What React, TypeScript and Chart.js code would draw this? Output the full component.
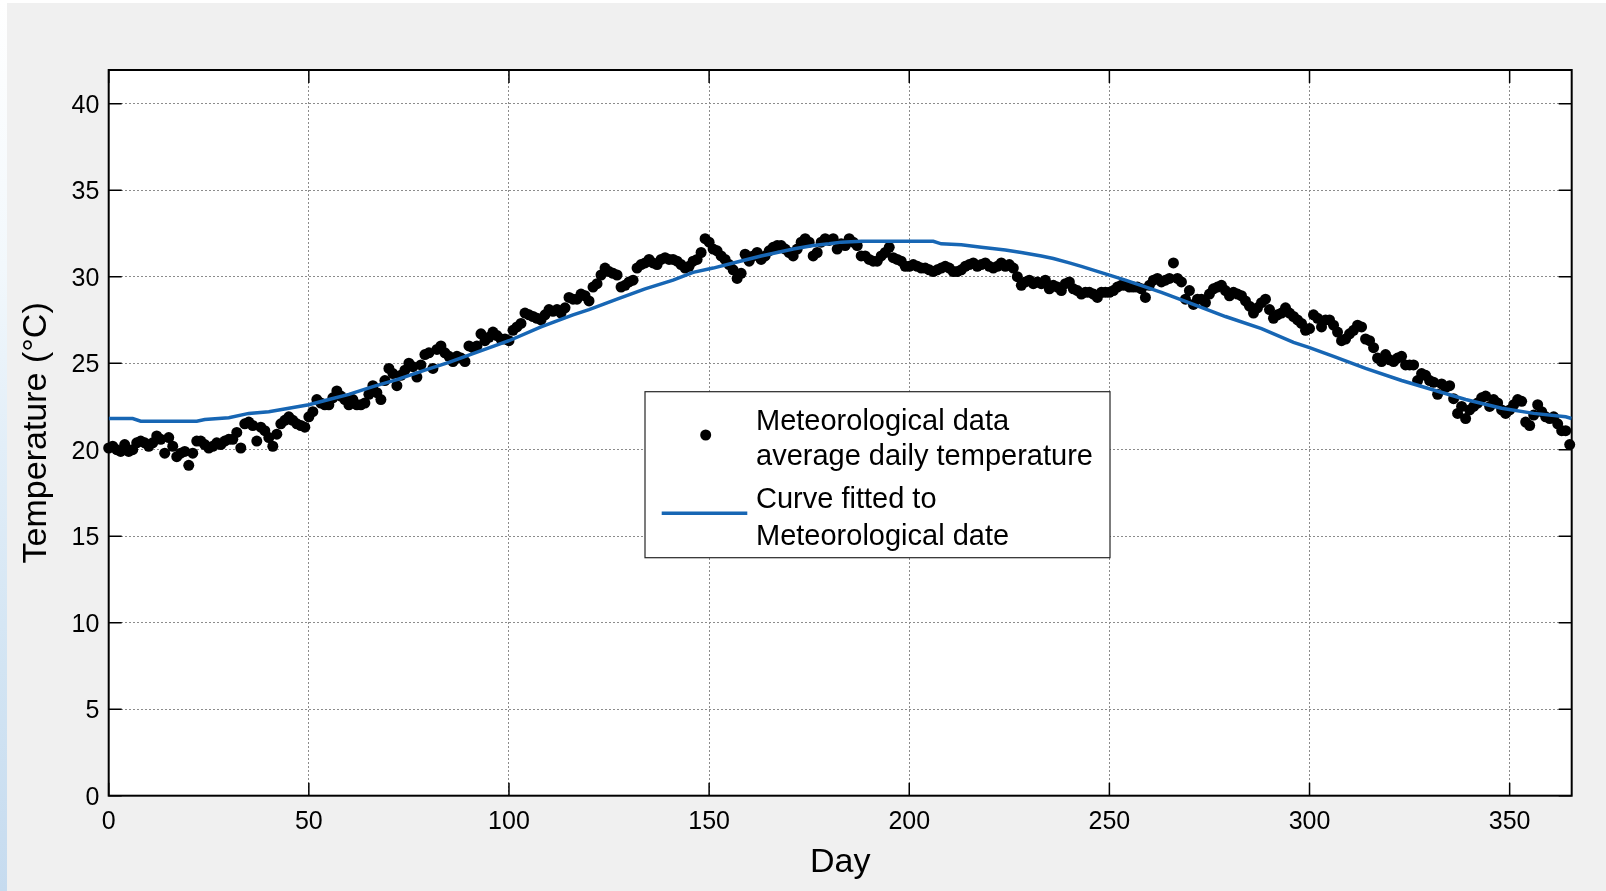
import React, { useEffect, useRef } from 'react';
import { Chart, registerables } from 'chart.js';

Chart.register(...registerables);

// Average daily temperature, day 0 .. 365
const temps: number[] = [
  20.1, 20.2, 20.0, 19.9, 20.3, 19.9, 20.0, 20.4, 20.5, 20.4,
  20.2, 20.4, 20.8, 20.6, 19.8, 20.7, 20.2, 19.6, 19.8, 19.9,
  19.1, 19.8, 20.5, 20.5, 20.3, 20.1, 20.2, 20.4, 20.3, 20.5,
  20.6, 20.6, 21.0, 20.1, 21.5, 21.6, 21.4, 20.5, 21.3, 21.1,
  20.7, 20.2, 20.9, 21.5, 21.7, 21.9, 21.7, 21.5, 21.4, 21.3,
  21.9, 22.2, 22.9, 22.7, 22.6, 22.6, 23.0, 23.4, 23.1, 22.9,
  22.6, 22.9, 22.6, 22.6, 22.7, 23.2, 23.7, 23.3, 22.9, 24.0,
  24.7, 24.4, 23.7, 24.3, 24.6, 25.0, 24.8, 24.2, 24.9, 25.5,
  25.6, 24.7, 25.8, 26.0, 25.6, 25.4, 25.1, 25.4, 25.3, 25.1,
  26.0, 25.9, 26.0, 26.7, 26.3, 26.5, 26.8, 26.6, 26.4, 26.4,
  26.3, 26.9, 27.1, 27.3, 27.9, 27.8, 27.7, 27.6, 27.5, 27.8,
  28.1, 28.0, 28.1, 27.9, 28.2, 28.8, 28.7, 28.7, 29.0, 28.9,
  28.6, 29.4, 29.6, 30.1, 30.5, 30.3, 30.2, 30.1, 29.4, 29.5,
  29.7, 29.8, 30.5, 30.7, 30.8, 31.0, 30.8, 30.7, 31.0, 31.1,
  31.0, 31.0, 30.9, 30.7, 30.5, 30.6, 30.9, 31.0, 31.4, 32.2,
  32.0, 31.6, 31.5, 31.2, 31.0, 30.7, 30.4, 29.9, 30.2, 31.3,
  30.9, 31.2, 31.4, 31.0, 31.2, 31.5, 31.7, 31.8, 31.8, 31.6,
  31.4, 31.2, 31.6, 32.0, 32.2, 32.0, 31.2, 31.4, 32.0, 32.2,
  32.1, 32.2, 31.6, 31.9, 31.8, 32.2, 32.0, 31.8, 31.2, 31.2,
  31.0, 30.9, 30.9, 31.2, 31.4, 31.7, 31.1, 31.0, 30.9, 30.6,
  30.6, 30.7, 30.6, 30.5, 30.5, 30.4, 30.3, 30.4, 30.5, 30.6,
  30.5, 30.3, 30.3, 30.4, 30.6, 30.7, 30.8, 30.6, 30.7, 30.8,
  30.6, 30.5, 30.6, 30.8, 30.6, 30.7, 30.5, 30.0, 29.5, 29.7,
  29.8, 29.6, 29.7, 29.6, 29.8, 29.3, 29.5, 29.4, 29.2, 29.6,
  29.7, 29.3, 29.2, 29.0, 29.1, 29.1, 29.0, 28.8, 29.1, 29.1,
  29.1, 29.2, 29.4, 29.5, 29.5, 29.4, 29.4, 29.4, 29.3, 28.8,
  29.5, 29.8, 29.9, 29.7, 29.8, 29.9, 30.8, 29.9, 29.7, 28.7,
  29.2, 28.4, 28.7, 28.7, 28.5, 29.0, 29.3, 29.4, 29.5, 29.2,
  28.9, 29.1, 29.0, 28.9, 28.6, 28.3, 27.9, 28.2, 28.5, 28.7,
  28.1, 27.6, 27.8, 27.9, 28.2, 27.9, 27.7, 27.5, 27.3, 26.9,
  27.0, 27.8, 27.6, 27.1, 27.5, 27.5, 27.2, 26.8, 26.3, 26.4,
  26.7, 26.9, 27.2, 27.1, 26.4, 26.3, 25.9, 25.3, 25.1, 25.5,
  25.2, 25.1, 25.3, 25.4, 24.9, 24.9, 24.9, 24.0, 24.4, 24.3,
  24.0, 23.9, 23.2, 23.8, 23.6, 23.7, 22.95, 22.1, 22.5, 21.8,
  22.3, 22.5, 22.7, 23.0, 23.1, 22.5, 22.9, 22.7, 22.3, 22.1,
  22.3, 22.6, 22.9, 22.8, 21.6, 21.4, 22.0, 22.6, 22.2, 21.9,
  21.8, 21.9, 21.5, 21.1, 21.1, 20.3,
];

// Fitted curve (day, temperature)
const curveDays: number[] = [
  0, 6, 8, 22, 24, 30, 35, 40, 45, 50, 55, 60, 66, 72, 79, 85, 91, 100, 108, 116,
  120, 127, 134, 141, 146, 151, 157, 163, 171, 176, 180, 183, 188, 206, 208, 213,
  218, 224, 228, 233, 236, 240, 243, 248, 254, 263, 271, 279, 288, 296, 300, 306,
  314, 323, 331, 339, 348, 356, 364, 365.5,
];
const curveTemps: number[] = [
  21.8, 21.8, 21.65, 21.65, 21.75, 21.85, 22.1, 22.2, 22.4, 22.6, 22.9, 23.2, 23.65, 24.05, 24.6, 25.05, 25.55, 26.3, 27.1, 27.8,
  28.1, 28.7, 29.3, 29.8, 30.25, 30.5, 30.85, 31.2, 31.6, 31.8, 31.9, 32.0, 32.05, 32.05, 31.9, 31.85,
  31.7, 31.55, 31.4, 31.2, 31.05, 30.8, 30.6, 30.24, 29.8, 29.1, 28.4, 27.7, 27.0, 26.2, 25.9, 25.4,
  24.7, 24.0, 23.45, 22.9, 22.4, 22.1, 21.9, 21.8,
];

const xTicks: number[] = [0, 50, 100, 150, 200, 250, 300, 350];
const yTicks: number[] = [0, 5, 10, 15, 20, 25, 30, 35, 40];
const xTitle = 'Day';
const yTitle = 'Temperature (°C)';
const legendTexts: string[][] = [
  ['Meteorological data', 'average daily temperature'],
  ['Curve fitted to', 'Meteorological date'],
];

const FONT = "'Liberation Sans', Arial, Helvetica, sans-serif";
const CURVE_COLOR = '#1766b4';
const DOT_COLOR = '#000000';

const framePlugin = {
  id: 'matlabFrame',
  beforeDraw(chart: any) {
    const { ctx, chartArea: a } = chart;
    ctx.save();
    ctx.fillStyle = '#ffffff';
    ctx.fillRect(a.left, a.top, a.right - a.left, a.bottom - a.top);
    ctx.restore();
  },
  beforeDatasetsDraw(chart: any) {
    const { ctx, chartArea: a, scales } = chart;
    ctx.save();
    ctx.strokeStyle = '#000';
    ctx.lineWidth = 1.5;
    const L = 13;
    ctx.beginPath();
    for (const v of xTicks) {
      const px = scales.x.getPixelForValue(v);
      ctx.moveTo(px, a.bottom);
      ctx.lineTo(px, a.bottom - L);
      ctx.moveTo(px, a.top);
      ctx.lineTo(px, a.top + L);
    }
    for (const v of yTicks) {
      const py = scales.y.getPixelForValue(v);
      ctx.moveTo(a.left, py);
      ctx.lineTo(a.left + L, py);
      ctx.moveTo(a.right, py);
      ctx.lineTo(a.right - L, py);
    }
    ctx.stroke();
    ctx.lineWidth = 2;
    ctx.strokeRect(a.left, a.top, a.right - a.left, a.bottom - a.top);
    ctx.restore();
  },
};

const legendPlugin = {
  id: 'matlabLegend',
  afterDatasetsDraw(chart: any) {
    const { ctx, chartArea: a } = chart;
    const x0 = a.left + 536.3;
    const y0 = a.top + 321.7;
    const w = 465;
    const h = 166;
    ctx.save();
    ctx.fillStyle = '#ffffff';
    ctx.fillRect(x0, y0, w, h);
    ctx.strokeStyle = '#262626';
    ctx.lineWidth = 1.2;
    ctx.strokeRect(x0, y0, w, h);
    ctx.fillStyle = DOT_COLOR;
    ctx.beginPath();
    ctx.arc(x0 + 60.7, y0 + 43.3, 5.5, 0, Math.PI * 2);
    ctx.fill();
    ctx.strokeStyle = CURVE_COLOR;
    ctx.lineWidth = 3.5;
    ctx.beginPath();
    ctx.moveTo(x0 + 16.7, y0 + 121.6);
    ctx.lineTo(x0 + 102.3, y0 + 121.6);
    ctx.stroke();
    ctx.fillStyle = '#000';
    ctx.font = `29px ${FONT}`;
    ctx.textAlign = 'left';
    ctx.textBaseline = 'alphabetic';
    const baselines = [[38.3, 73.3], [116.6, 153.3]];
    legendTexts.forEach((lines, i) => {
      lines.forEach((t, j) => ctx.fillText(t, x0 + 111, y0 + baselines[i][j]));
    });
    ctx.restore();
  },
};

export default function App() {
  const ref = useRef<HTMLCanvasElement | null>(null);

  useEffect(() => {
    if (!ref.current) return;
    const chart = new Chart(ref.current, {
      type: 'scatter',
      data: {
        datasets: [
          {
            label: 'Curve fitted to Meteorological date',
            data: curveDays.map((d, i) => ({ x: d, y: curveTemps[i] })),
            showLine: true,
            borderColor: CURVE_COLOR,
            backgroundColor: CURVE_COLOR,
            borderWidth: 3.5,
            pointRadius: 0,
            tension: 0,
            order: 0,
          },
          {
            label: 'Meteorological data average daily temperature',
            data: temps.map((t, i) => ({ x: i, y: t })),
            backgroundColor: DOT_COLOR,
            borderColor: DOT_COLOR,
            borderWidth: 0,
            pointRadius: 5.5,
            pointHoverRadius: 5.5,
            order: 1,
            clip: false,
          },
        ],
      },
      options: {
        responsive: false,
        animation: false,
        devicePixelRatio: 1,
        events: [],
        layout: { padding: { left: 0, top: 67, right: 34.3, bottom: 0 } },
        plugins: { legend: { display: false }, tooltip: { enabled: false } },
        scales: {
          x: {
            type: 'linear',
            min: 0,
            max: 365.5,
            afterBuildTicks: (s: any) => {
              s.ticks = xTicks.map((v) => ({ value: v }));
            },
            afterFit: (s: any) => {
              s.height = 95.3;
              s.paddingLeft = 0;
              s.paddingRight = 0;
            },
            grid: { color: '#8c8c8c', lineWidth: 1, drawTicks: false },
            border: { display: false, dash: [2, 2] },
            ticks: {
              font: { family: FONT, size: 25 },
              color: '#000',
              padding: 11,
              maxRotation: 0,
              autoSkip: false,
            },
            title: {
              display: true,
              text: xTitle,
              font: { family: FONT, size: 34 },
              color: '#000',
              padding: { top: 0, bottom: 8 },
            },
          },
          y: {
            type: 'linear',
            min: 0,
            max: 41.95,
            afterBuildTicks: (s: any) => {
              s.ticks = yTicks.map((v) => ({ value: v }));
            },
            afterFit: (s: any) => {
              s.width = 101.7;
              s.paddingTop = 0;
              s.paddingBottom = 0;
            },
            grid: { color: '#8c8c8c', lineWidth: 1, drawTicks: false },
            border: { display: false, dash: [2, 2] },
            ticks: {
              font: { family: FONT, size: 25 },
              color: '#000',
              padding: 9.4,
              labelOffset: 2,
              autoSkip: false,
            },
            title: {
              display: true,
              text: yTitle,
              font: { family: FONT, size: 34 },
              color: '#000',
              padding: { top: 9, bottom: 0 },
            },
          },
        },
      },
      plugins: [framePlugin, legendPlugin],
    } as any);
    return () => chart.destroy();
  }, []);

  return (
    <div
      style={{
        position: 'fixed',
        left: 0,
        top: 0,
        width: 1606,
        height: 891,
        background: '#ffffff',
        overflow: 'hidden',
      }}
    >
      <div
        style={{
          position: 'absolute',
          left: 0,
          top: 0,
          width: 7,
          height: 891,
          background:
            'linear-gradient(to bottom, #ffffff 0%, #f2f8fc 30%, #e2eef8 50%, #d2e4f3 75%, #c6dbef 100%)',
        }}
      />
      <div
        style={{
          position: 'absolute',
          left: 7,
          top: 3,
          width: 1599,
          height: 888,
          background: '#f0f0f0',
        }}
      >
        <canvas ref={ref} width={1599} height={888} style={{ display: 'block' }} />
      </div>
    </div>
  );
}
